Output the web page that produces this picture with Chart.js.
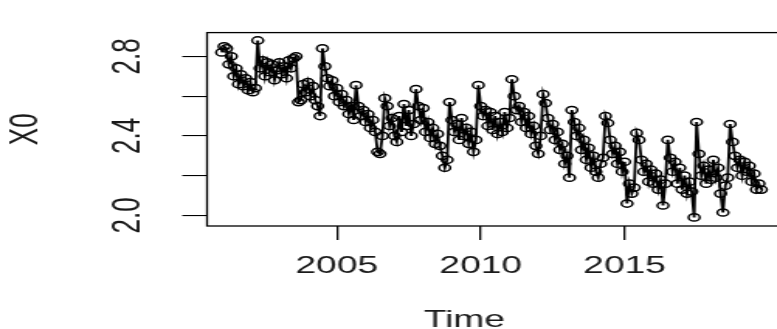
<!DOCTYPE html>
<html>
<head>
<meta charset="utf-8">
<script src="https://cdn.jsdelivr.net/npm/chart.js@4/dist/chart.umd.min.js"></script>
<style>
    body { margin: 0; background: #fff; }
    #wrap { width: 777px; height: 329px; overflow: hidden; }
    #tsChart { display: block; }
</style>
</head>
<body>
<div id="wrap"><canvas id="tsChart" width="512" height="329" style="width:793.6px;height:329px"></canvas></div>
<script>
// monthly series X0, starting January 2001
// (the reference is an R plot stretched sideways, so the canvas is stretched too)
const startYear = 2001;
const perYear = 12;
const x0Values = [
    2.82, 2.85, 2.84, 2.76, 2.80, 2.70, 2.74, 2.66, 2.71, 2.65, 2.69, 2.63, 2.67, 2.62, 2.64,
    2.88, 2.74, 2.78, 2.70, 2.77, 2.72, 2.76, 2.68, 2.73, 2.77, 2.71, 2.75, 2.69, 2.78, 2.74,
    2.79, 2.80, 2.57, 2.58, 2.66, 2.62, 2.67, 2.60, 2.65, 2.58, 2.55, 2.50,
    2.84, 2.75, 2.69, 2.65, 2.68, 2.60, 2.64, 2.57, 2.61, 2.55, 2.58, 2.51, 2.55, 2.48,
    2.655, 2.55, 2.50, 2.53, 2.47, 2.51, 2.44, 2.48, 2.42, 2.32, 2.31, 2.40,
    2.59, 2.55, 2.45, 2.49, 2.40, 2.37, 2.50, 2.42, 2.56, 2.45, 2.53, 2.40, 2.46,
    2.635, 2.55, 2.48, 2.54, 2.42, 2.47, 2.39, 2.44, 2.36, 2.41, 2.35, 2.30, 2.24, 2.28,
    2.57, 2.48, 2.42, 2.46, 2.38, 2.49, 2.40, 2.44, 2.36, 2.42, 2.32, 2.38,
    2.655, 2.55, 2.50, 2.53, 2.45, 2.52, 2.43, 2.50, 2.41, 2.47, 2.42, 2.52, 2.44, 2.49,
    2.685, 2.60, 2.53, 2.55, 2.47, 2.52, 2.44, 2.50, 2.41, 2.45, 2.35, 2.31, 2.40,
    2.61, 2.565, 2.49, 2.43, 2.46, 2.38, 2.42, 2.33, 2.36, 2.26, 2.30, 2.19,
    2.53, 2.47, 2.40, 2.44, 2.33, 2.38, 2.28, 2.34, 2.24, 2.30, 2.22, 2.19, 2.26, 2.29,
    2.50, 2.465, 2.38, 2.31, 2.35, 2.26, 2.32, 2.22, 2.27, 2.06, 2.16, 2.11, 2.14,
    2.415, 2.38, 2.28, 2.22, 2.26, 2.17, 2.23, 2.16, 2.21, 2.13, 2.18, 2.05, 2.16,
    2.38, 2.29, 2.22, 2.27, 2.16, 2.24, 2.13, 2.20, 2.11, 2.17, 2.12, 1.99,
    2.47, 2.31, 2.20, 2.25, 2.16, 2.23, 2.18, 2.28, 2.19, 2.24, 2.11, 2.015, 2.15, 2.19,
    2.46, 2.37, 2.30, 2.24, 2.28, 2.20, 2.27, 2.22, 2.25, 2.17, 2.21, 2.13, 2.16, 2.13
];
const xTickYears = [2005, 2010, 2015];
const yTickValues = [2.0, 2.2, 2.4, 2.6, 2.8];
const yTickLabels = ['2.0', '', '2.4', '', '2.8'];

const points = x0Values.map((v, i) => ({ x: startYear + i / perYear, y: v }));

const ink = '#000';
const textInk = '#1a1a1a';
const textFont = { family: "'Liberation Sans', Arial, sans-serif", size: 24 };
const sideFont = { family: "'Liberation Sans Narrow', 'Liberation Sans', Arial, sans-serif", size: 26 };

// box round the plot region and the "Time" label, as R draws them
const boxPlugin = {
    id: 'rbox',
    afterDraw(chart) {
        const a = chart.chartArea;
        const ctx = chart.ctx;
        ctx.save();
        ctx.strokeStyle = ink;
        ctx.lineWidth = 1.3;
        ctx.strokeRect(a.left, a.top, a.right - a.left, a.bottom - a.top);
        ctx.fillStyle = textInk;
        ctx.font = textFont.size + 'px ' + textFont.family;
        ctx.textAlign = 'center';
        ctx.textBaseline = 'alphabetic';
        ctx.fillText('Time', 299.4, 326.5);
        ctx.restore();
    }
};

new Chart(document.getElementById('tsChart').getContext('2d'), {
    type: 'line',
    data: {
        datasets: [{
            label: 'X0',
            data: points,
            borderColor: ink,
            borderWidth: 1.8,
            pointStyle: 'circle',
            pointRadius: 3.6,
            pointBorderWidth: 1.5,
            pointBorderColor: ink,
            pointBackgroundColor: 'rgba(0,0,0,0)',
            fill: false,
            tension: 0
        }]
    },
    options: {
        responsive: false,
        animation: false,
        events: [],
        layout: { padding: { top: 12, right: 5.5, left: 0, bottom: 0 } },
        plugins: { legend: { display: false }, tooltip: { enabled: false } },
        scales: {
            x: {
                type: 'linear',
                min: 2000.49,
                max: 2020.59,
                afterFit: s => { s.height = 103; },
                afterBuildTicks: s => { s.ticks = xTickYears.map(v => ({ value: v })); },
                grid: { drawOnChartArea: false, drawTicks: true, tickLength: 14, color: ink, lineWidth: 1.3 },
                border: { display: false },
                ticks: {
                    autoSkip: false,
                    maxRotation: 0,
                    padding: 12,
                    color: textInk,
                    font: textFont,
                    callback: v => String(v)
                }
            },
            y: {
                type: 'linear',
                min: 1.947,
                max: 2.9195,
                afterFit: s => { s.width = 133.5; },
                afterBuildTicks: s => { s.ticks = yTickValues.map(v => ({ value: v })); },
                grid: { drawOnChartArea: false, drawTicks: true, tickLength: 16, color: ink, lineWidth: 1.1 },
                border: { display: false },
                title: { display: true, text: 'X0', color: textInk, font: sideFont, padding: { top: 1, bottom: 0 } },
                ticks: {
                    autoSkip: false,
                    minRotation: 90,
                    maxRotation: 90,
                    crossAlign: 'center',
                    padding: 17,
                    color: textInk,
                    font: sideFont,
                    callback: (v, i) => yTickLabels[i]
                }
            }
        }
    },
    plugins: [boxPlugin]
});
</script>
</body>
</html>
